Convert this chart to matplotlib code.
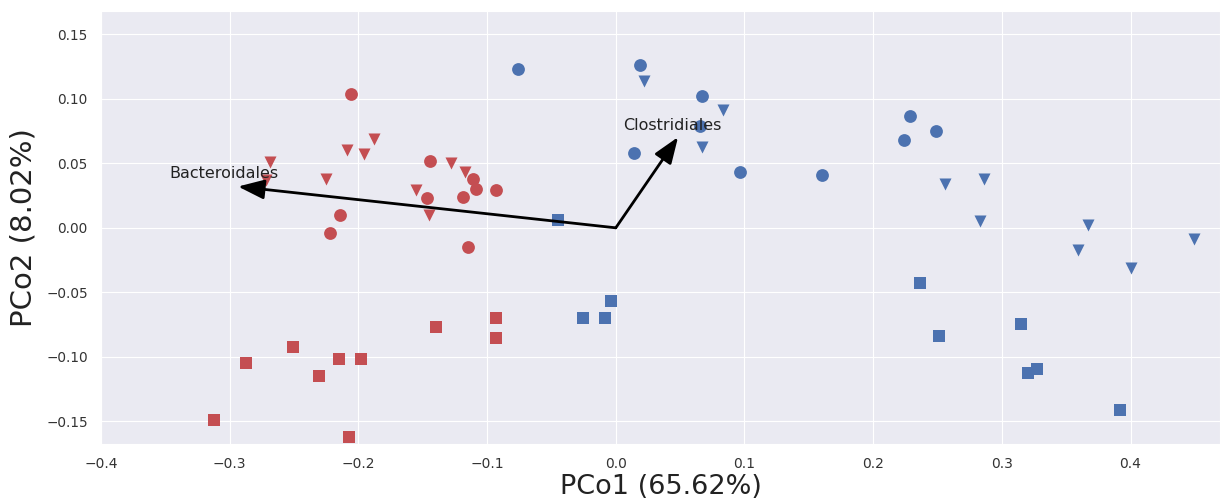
import matplotlib
matplotlib.use("Agg")
import matplotlib.pyplot as plt
import seaborn as sns

# ---- data (PCo1, PCo2) ----
red_circle_x = [-0.206, -0.144, -0.111, -0.109, -0.093, -0.119, -0.147, -0.214, -0.222, -0.115]
red_circle_y = [0.104, 0.052, 0.038, 0.030, 0.0295, 0.024, 0.023, 0.010, -0.004, -0.0145]

red_tri_x = [-0.188, -0.209, -0.196, -0.269, -0.128, -0.272, -0.117, -0.225, -0.155, -0.145]
red_tri_y = [0.069, 0.060, 0.057, 0.051, 0.0506, 0.037, 0.043, 0.038, 0.0295, 0.010]

red_sq_x = [-0.312, -0.287, -0.251, -0.2305, -0.215, -0.198, -0.2075, -0.140, -0.0927, -0.093]
red_sq_y = [-0.149, -0.105, -0.092, -0.115, -0.102, -0.102, -0.162, -0.077, -0.0695, -0.085]

blue_circle_x = [-0.0759, 0.0186, 0.0668, 0.0653, 0.0145, 0.0969, 0.1605, 0.2287, 0.249, 0.224]
blue_circle_y = [0.123, 0.126, 0.102, 0.079, 0.058, 0.043, 0.041, 0.0863, 0.075, 0.0677]

blue_tri_x = [0.0218, 0.0837, 0.0668, 0.256, 0.286, 0.283, 0.367, 0.359, 0.4496, 0.400]
blue_tri_y = [0.114, 0.0915, 0.063, 0.034, 0.038, 0.0054, 0.0023, -0.017, -0.0088, -0.031]

blue_sq_x = [-0.0448, -0.0034, -0.0251, -0.0083, 0.2365, 0.251, 0.315, 0.320, 0.327, 0.392]
blue_sq_y = [0.0062, -0.057, -0.070, -0.0698, -0.0426, -0.0837, -0.0747, -0.1127, -0.1096, -0.141]

arrow_names = ["Bacteroidales", "Clostridiales"]
arrow_x = [-0.2935, 0.0484]
arrow_y = [0.032, 0.0703]
label_x = [-0.347, 0.0057]
label_y = [0.0385, 0.076]

x_label = "PCo1 (65.62%)"
y_label = "PCo2 (8.02%)"

# ---- plot ----
sns.set_style("darkgrid")
plt.rcParams['font.family'] = ['DejaVu Sans']

RED = "#c44e52"
BLUE = "#4c72b0"

fig = plt.figure(figsize=(12.2, 5.0), dpi=100)
ax = fig.add_axes([101 / 1220, 1 - 444 / 500, 1 - 101 / 1220, (444 - 11) / 500])

ax.scatter(red_circle_x, red_circle_y, s=85, marker='o', color=RED, linewidths=0, zorder=3)
ax.scatter(red_tri_x, red_tri_y, s=75, marker='v', color=RED, linewidths=0, zorder=3)
ax.scatter(red_sq_x, red_sq_y, s=72, marker='s', color=RED, linewidths=0, zorder=3)
ax.scatter(blue_circle_x, blue_circle_y, s=85, marker='o', color=BLUE, linewidths=0, zorder=3)
ax.scatter(blue_tri_x, blue_tri_y, s=75, marker='v', color=BLUE, linewidths=0, zorder=3)
ax.scatter(blue_sq_x, blue_sq_y, s=72, marker='s', color=BLUE, linewidths=0, zorder=3)

for name, ax_, ay_, lx, ly in zip(arrow_names, arrow_x, arrow_y, label_x, label_y):
    ax.annotate('', xy=(ax_, ay_), xytext=(0, 0),
                arrowprops=dict(arrowstyle='-|>,head_length=0.8,head_width=0.3',
                                color='black', lw=2.0,
                                mutation_scale=20, shrinkA=0, shrinkB=0),
                zorder=4)
    ax.text(lx, ly, name, fontsize=11.5, color='#222222', va='baseline', ha='left', zorder=5)

ax.set_xlim(-0.4, 0.4695)
ax.set_ylim(-0.1675, 0.168)
ax.set_xticks([-0.4, -0.3, -0.2, -0.1, 0.0, 0.1, 0.2, 0.3, 0.4])
ax.set_yticks([-0.15, -0.10, -0.05, 0.0, 0.05, 0.10, 0.15])
ax.set_xticklabels(['\u22120.4', '\u22120.3', '\u22120.2', '\u22120.1', '0.0', '0.1', '0.2', '0.3', '0.4'])
ax.set_yticklabels(['\u22120.15', '\u22120.10', '\u22120.05', '0.00', '0.05', '0.10', '0.15'])
ax.tick_params(axis='x', labelsize=10, colors='#333333', pad=6)
ax.tick_params(axis='y', labelsize=9.8, colors='#333333', pad=6)

ax.set_xlabel(x_label, fontsize=19.5, color='#222222', labelpad=2)
ax.set_ylabel(y_label, fontsize=21, color='#222222', labelpad=6)

fig.savefig("out.png", dpi=100)
